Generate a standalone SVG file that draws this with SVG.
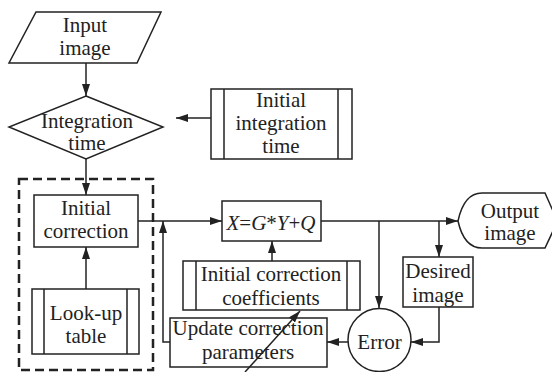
<svg xmlns="http://www.w3.org/2000/svg" width="552" height="372" viewBox="0 0 552 372">
<style>
.s{fill:#fff;stroke:#222;stroke-width:1.5}
.t{font-family:"Liberation Serif","Times New Roman",serif;font-size:21px;fill:#222;text-anchor:middle}
.i{font-style:italic}
.c{fill:none;stroke:#222;stroke-width:1.5}
</style>
<defs>
<marker id="a" viewBox="0 0 12 8" refX="12" refY="4" markerWidth="12" markerHeight="8" markerUnits="userSpaceOnUse" orient="auto">
<path d="M0,0 L12,4 L0,8 Z" fill="#222"/>
</marker>
</defs>
<rect width="552" height="372" fill="#fff"/>
<g id="group-dashed"><rect x="19" y="179" width="134" height="191" fill="none" stroke="#222" stroke-width="2.5" stroke-dasharray="9,5"/></g>
<g id="connectors">
<path class="c" d="M86,63 V96" marker-end="url(#a)"/>
<path class="c" d="M211,118 H176" marker-end="url(#a)"/>
<path class="c" d="M86,159 V195" marker-end="url(#a)"/>
<path class="c" d="M86,289 V247" marker-end="url(#a)"/>
<path class="c" d="M138,221 H222" marker-end="url(#a)"/>
<path class="c" d="M170,342 H163 V221" marker-end="url(#a)"/>
<path class="c" d="M272,261 V241" marker-end="url(#a)"/>
<path class="c" d="M321,221 H458" marker-end="url(#a)"/>
<path class="c" d="M379,221 V308" marker-end="url(#a)"/>
<path class="c" d="M439,221 V257" marker-end="url(#a)"/>
<path class="c" d="M439,307 V342 H411" marker-end="url(#a)"/>
<path class="c" d="M348,342 H327" marker-end="url(#a)"/>
</g>
<g id="input-image"><path class="s" d="M36,12 H161 L137,63 H9 Z"/><text class="t" x="85" y="32">Input</text><text class="t" x="85" y="55">image</text></g>
<g id="integration-time"><path class="s" d="M86,96 L163,127 L86,159 L9,127 Z"/><text class="t" x="87" y="128">Integration</text><text class="t" x="87" y="150">time</text></g>
<g id="initial-integration-time"><rect class="s" x="211" y="89" width="141" height="70"/><path class="c" d="M224,89 V159 M338,89 V159"/><text class="t" x="281" y="107">Initial</text><text class="t" x="281" y="130">integration</text><text class="t" x="281" y="153">time</text></g>
<g id="initial-correction"><rect class="s" x="34" y="195" width="104" height="52"/><text class="t" x="86" y="215">Initial</text><text class="t" x="86" y="238">correction</text></g>
<g id="look-up-table"><rect class="s" x="32" y="289" width="107" height="65"/><path class="c" d="M44,289 V354 M127,289 V354"/><text class="t" x="86" y="320">Look-up</text><text class="t" x="86" y="343">table</text></g>
<g id="formula"><rect class="s" x="222" y="201" width="99" height="40"/><text class="t" x="271" y="230"><tspan class="i">X</tspan>=<tspan class="i">G</tspan>*<tspan class="i">Y</tspan>+<tspan class="i">Q</tspan></text></g>
<g id="initial-correction-coefficients"><rect class="s" x="183" y="261" width="177" height="49"/><path class="c" d="M196,261 V310 M347,261 V310"/><text class="t" x="271" y="281">Initial correction</text><text class="t" x="271" y="305">coefficients</text></g>
<g id="update-correction-parameters"><rect class="s" x="170" y="318" width="157" height="49"/><text class="t" x="248" y="335">Update correction</text><text class="t" x="248" y="359">parameters</text></g>
<g id="output-image"><path class="s" d="M458,221 Q464,193 482,193 H545 L553,211 V231 L545,248 H482 Q464,248 458,221 Z"/><text class="t" x="510" y="218">Output</text><text class="t" x="510" y="240">image</text></g>
<g id="desired-image"><rect class="s" x="403" y="257" width="70" height="50"/><text class="t" x="438" y="278">Desired</text><text class="t" x="438" y="302">image</text></g>
<g id="error"><circle class="s" cx="379.5" cy="340" r="31.5"/><text class="t" x="379.5" y="349">Error</text></g>
<g id="adjust-arrow"><path class="c" d="M245,372 L300,311" marker-end="url(#a)"/></g>
</svg>
